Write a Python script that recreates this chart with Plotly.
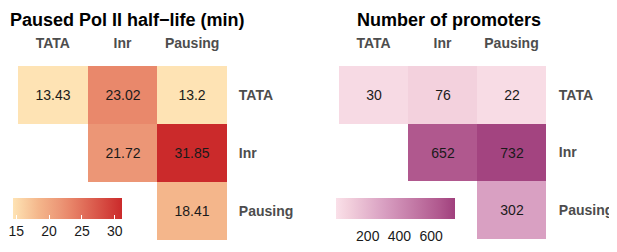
import plotly.graph_objects as go

categories = ["TATA", "Inr", "Pausing"]

# Paused Pol II half-life (min); rows = y category, cols = x category
halflife = [
    [13.43, 23.02, 13.2],
    [None, 21.72, 31.85],
    [None, None, 18.41],
]
# Number of promoters
promoters = [
    [30, 76, 22],
    [None, 652, 732],
    [None, None, 302],
]

halflife_ticks = [15, 20, 25, 30]
promoter_ticks = [200, 400, 600]

halflife_scale = [[0, "#FEE3B4"], [0.236, "#F4B68B"], [0.435, "#EC9676"],
                  [0.513, "#E9886B"], [1, "#CB2A2B"]]
promoter_scale = [[0, "#FAE0E9"], [0.1, "#F3D1DD"], [0.4, "#D9A0C2"],
                  [0.87, "#B0588E"], [1, "#A0407D"]]

# page body has an 8px margin; work in screen pixels and convert
OFF = 8
W, H = 609, 244


def px(x):
    return (x - OFF) / W


def py(y):
    return 1 - (y - OFF) / H


def txt(z):
    return [["" if v is None else f"{v:g}" for v in row] for row in z]


fig = go.Figure()
fig.add_trace(go.Heatmap(
    z=halflife, x=categories, y=categories, text=txt(halflife),
    texttemplate="%{text}", textfont=dict(size=14, color="#1a1a1a"),
    coloraxis="coloraxis", xaxis="x", yaxis="y",
    hoverongaps=False,
))
fig.add_trace(go.Heatmap(
    z=promoters, x=categories, y=categories, text=txt(promoters),
    texttemplate="%{text}", textfont=dict(size=14, color="#1a1a1a"),
    coloraxis="coloraxis2", xaxis="x2", yaxis="y2",
    hoverongaps=False,
))

tickfont = dict(family="Liberation Sans", size=14, color="#4D4D4D", weight="bold")

axis_common = dict(showgrid=False, zeroline=False, showline=False,
                   tickfont=tickfont, ticks="outside", tickcolor="rgba(0,0,0,0)")

fig.update_layout(
    width=W, height=H,
    margin=dict(l=0, r=0, t=0, b=0, autoexpand=False),
    paper_bgcolor="white", plot_bgcolor="white",
    font=dict(family="Liberation Sans", color="#1a1a1a"),
    xaxis=dict(domain=[px(18), px(227)], side="top", anchor="y", ticklen=11, **axis_common),
    yaxis=dict(domain=[py(240), py(66)], side="right", anchor="x", autorange="reversed",
               ticklen=8, **axis_common),
    xaxis2=dict(domain=[px(339), px(546)], side="top", anchor="y2", ticklen=11, **axis_common),
    yaxis2=dict(domain=[py(239), py(66)], side="right", anchor="x2", autorange="reversed",
                ticklen=9, **axis_common),
    coloraxis=dict(
        colorscale=halflife_scale, cmin=14.5, cmax=31.1,
        colorbar=dict(orientation="h", x=px(13), xanchor="left", y=py(197.5),
                      yanchor="top", len=109, lenmode="pixels", thickness=21,
                      outlinewidth=0, xpad=0, ypad=0, tickvals=halflife_ticks,
                      ticks="inside", ticklen=4, tickcolor="white",
                      tickfont=dict(size=14, color="#1a1a1a")),
    ),
    coloraxis2=dict(
        colorscale=promoter_scale, cmin=0, cmax=750,
        colorbar=dict(orientation="h", x=px(336), xanchor="left", y=py(197.5),
                      yanchor="top", len=119, lenmode="pixels", thickness=21,
                      outlinewidth=0, xpad=0, ypad=0, tickvals=promoter_ticks,
                      ticks="outside", ticklen=6, tickcolor="white",
                      tickfont=dict(size=14, color="#1a1a1a")),
    ),
    annotations=[
        dict(text="<b>Paused Pol II half−life (min)</b>", x=0, y=1,
             xref="paper", yref="paper", xanchor="left", yanchor="top",
             showarrow=False, font=dict(size=18, color="#000000")),
        dict(text="<b>Number of promoters</b>", x=px(355), y=1,
             xref="paper", yref="paper", xanchor="left", yanchor="top",
             showarrow=False, font=dict(size=18, color="#000000")),
    ],
)

fig.write_html("out.html")
